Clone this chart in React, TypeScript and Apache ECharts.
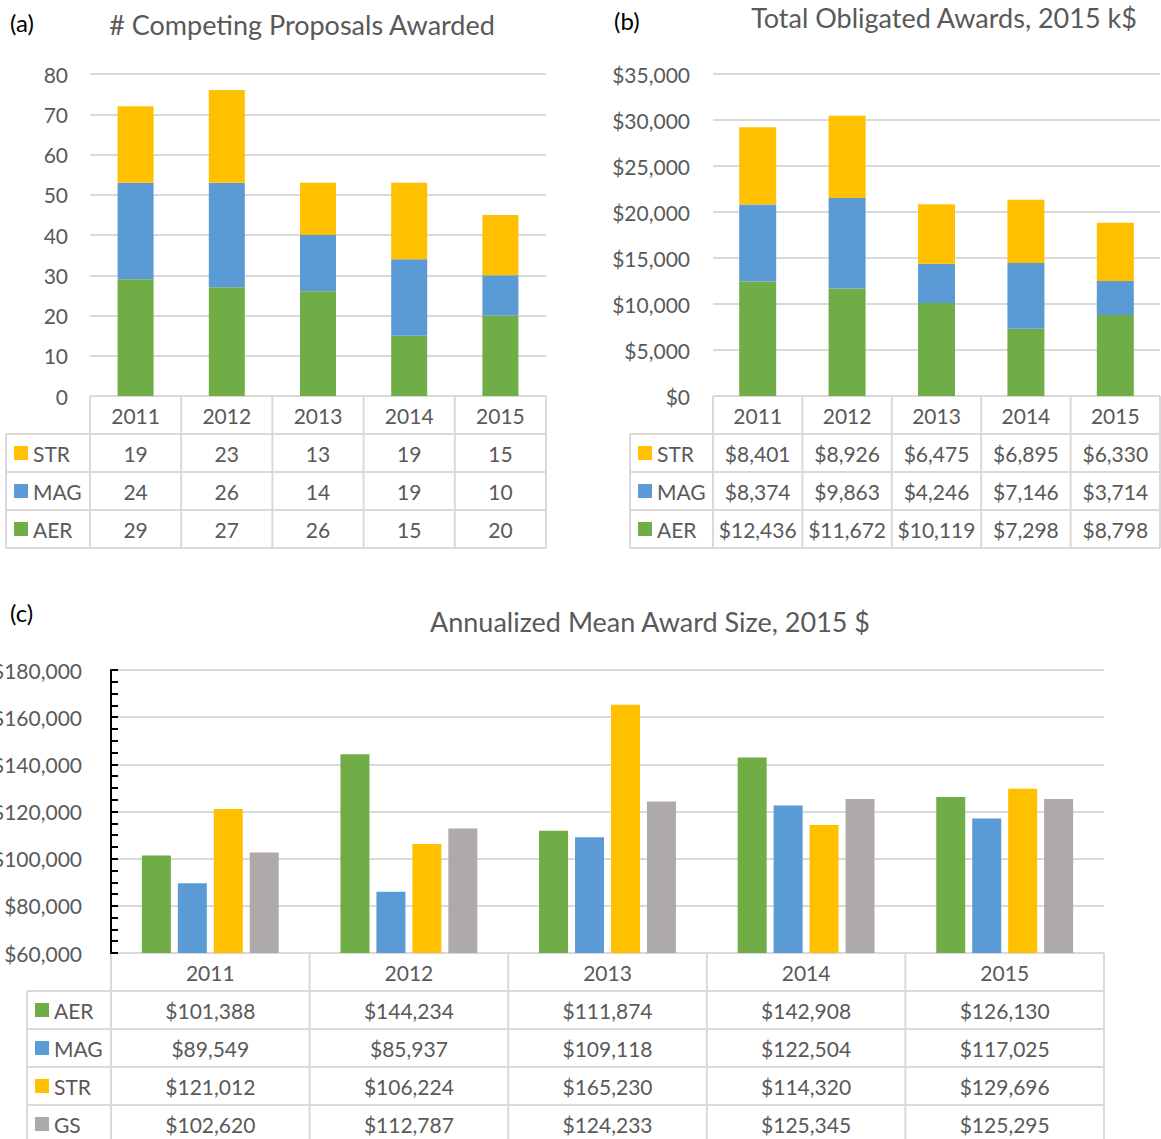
import React, { useEffect, useRef } from 'react';
import * as echarts from 'echarts';

// ---------- data ----------
const years = ['2011', '2012', '2013', '2014', '2015'];

const countSTR = [19, 23, 13, 19, 15];
const countMAG = [24, 26, 14, 19, 10];
const countAER = [29, 27, 26, 15, 20];
const countTicks = { min: 0, max: 80, interval: 10 };

const totalSTR = [8401, 8926, 6475, 6895, 6330];
const totalMAG = [8374, 9863, 4246, 7146, 3714];
const totalAER = [12436, 11672, 10119, 7298, 8798];
const totalTicks = { min: 0, max: 35000, interval: 5000 };

const meanAER = [101388, 144234, 111874, 142908, 126130];
const meanMAG = [89549, 85937, 109118, 122504, 117025];
const meanSTR = [121012, 106224, 165230, 114320, 129696];
const meanGS = [102620, 112787, 124233, 125345, 125295];
const meanTicks = { min: 60000, max: 180000, interval: 20000 };

// ---------- style ----------
const GREEN = '#70ad47';
const BLUE = '#5b9bd5';
const GOLD = '#ffc000';
const GRAY = '#aeaaaa';
const TEXT = '#595959';
const LINE = '#d9d9d9';
const FONT = 'Lato, "Open Sans", sans-serif';
const FS = 21;

const money = (v: number) => '$' + v.toLocaleString('en-US');

const gridA = { left: 90, top: 74, width: 456, height: 322 };
const gridB = { left: 713, top: 74, width: 447, height: 322 };
const gridC = { left: 111, top: 670, width: 993, height: 283 };

type Row = { name: string; color: string; values: string[] };

function txt(x: number, y: number, text: string, align: string, size = FS, fill = TEXT) {
  return {
    type: 'text',
    x,
    y,
    silent: true,
    style: { text, fill, fontSize: size, fontFamily: FONT, align, verticalAlign: 'middle' },
  };
}

function ln(x1: number, y1: number, x2: number, y2: number) {
  return {
    type: 'line',
    silent: true,
    shape: { x1, y1, x2, y2 },
    style: { stroke: LINE, lineWidth: 2 },
  };
}

function table(grid: { left: number; top: number; width: number; height: number }, legendLeft: number, rowH: number, rows: Row[]) {
  const els: any[] = [];
  const top = grid.top + grid.height;
  const left = grid.left;
  const right = grid.left + grid.width;
  const colW = grid.width / years.length;
  const bottom = top + rowH * (rows.length + 1);
  years.forEach((y, i) => els.push(txt(left + colW * (i + 0.5), top + rowH / 2, y, 'center')));
  els.push(ln(left, top, right, top));
  for (let r = 1; r <= rows.length + 1; r++) {
    els.push(ln(legendLeft, top + rowH * r, right, top + rowH * r));
  }
  for (let i = 0; i <= years.length; i++) {
    els.push(ln(left + colW * i, top, left + colW * i, bottom));
  }
  els.push(ln(legendLeft, top + rowH, legendLeft, bottom));
  rows.forEach((row, r) => {
    const cy = top + rowH * (r + 1) + rowH / 2;
    els.push({
      type: 'rect',
      silent: true,
      shape: { x: legendLeft + 8, y: cy - 7, width: 14, height: 14 },
      style: { fill: row.color },
    });
    els.push(txt(legendLeft + 27, cy, row.name, 'left'));
    row.values.forEach((v, i) => els.push(txt(left + colW * (i + 0.5), cy, v, 'center')));
  });
  return els;
}

function valueAxis(gridIndex: number, ticks: { min: number; max: number; interval: number }, fmt: (v: number) => string, margin: number) {
  return {
    type: 'value',
    gridIndex,
    min: ticks.min,
    max: ticks.max,
    interval: ticks.interval,
    axisLine: { show: false },
    axisTick: { show: false },
    axisLabel: { color: TEXT, fontSize: FS, fontFamily: FONT, margin, formatter: fmt },
    splitLine: { lineStyle: { color: LINE, width: 2 } },
  };
}

function catAxis(gridIndex: number) {
  return {
    type: 'category',
    gridIndex,
    data: years,
    axisLine: { show: false },
    axisTick: { show: false },
    axisLabel: { show: false },
    splitLine: { show: false },
  };
}

function stackBar(name: string, data: number[], color: string, idx: number, stack: string, width: number) {
  return {
    type: 'bar',
    name,
    data,
    stack,
    xAxisIndex: idx,
    yAxisIndex: idx,
    barWidth: width,
    itemStyle: { color },
  };
}

function groupBar(name: string, data: number[], color: string) {
  return {
    type: 'bar',
    name,
    data,
    xAxisIndex: 2,
    yAxisIndex: 2,
    barWidth: 29,
    barGap: '24%',
    itemStyle: { color },
  };
}

export default function App() {
  const ref = useRef<HTMLDivElement>(null);

  useEffect(() => {
    if (!ref.current) return;
    const chart = echarts.init(ref.current, undefined, { renderer: 'svg' });

    const graphic: any[] = [
      txt(10, 22, '(a)', 'left', 24, '#000'),
      txt(302, 24, '# Competing Proposals Awarded', 'center', 27),
      txt(614, 20, '(b)', 'left', 24, '#000'),
      txt(944, 17, 'Total Obligated Awards, 2015 k$', 'center', 27),
      txt(10, 612, '(c)', 'left', 24, '#000'),
      txt(650, 621, 'Annualized Mean Award Size, 2015 $', 'center', 27),
      ...table(gridA, 6, 38, [
        { name: 'STR', color: GOLD, values: countSTR.map(String) },
        { name: 'MAG', color: BLUE, values: countMAG.map(String) },
        { name: 'AER', color: GREEN, values: countAER.map(String) },
      ]),
      ...table(gridB, 630, 38, [
        { name: 'STR', color: GOLD, values: totalSTR.map(money) },
        { name: 'MAG', color: BLUE, values: totalMAG.map(money) },
        { name: 'AER', color: GREEN, values: totalAER.map(money) },
      ]),
      ...table(gridC, 27, 38, [
        { name: 'AER', color: GREEN, values: meanAER.map(money) },
        { name: 'MAG', color: BLUE, values: meanMAG.map(money) },
        { name: 'STR', color: GOLD, values: meanSTR.map(money) },
        { name: 'GS', color: GRAY, values: meanGS.map(money) },
      ]),
    ];

    const yC: any = valueAxis(2, meanTicks, money, 29);
    yC.axisLine = { show: true, lineStyle: { color: '#000', width: 2 } };
    yC.axisTick = { show: true, inside: true, length: 7, lineStyle: { color: '#000', width: 2 } };
    yC.minorTick = { show: true, splitNumber: 4, length: 7, lineStyle: { color: '#000', width: 2 } };

    const g = (p: any) => ({ ...p, containLabel: false, outerBoundsMode: 'none' });

    chart.setOption({
      animation: false,
      textStyle: { fontFamily: FONT },
      grid: [g(gridA), g(gridB), g(gridC)],
      xAxis: [catAxis(0), catAxis(1), catAxis(2)],
      yAxis: [
        valueAxis(0, countTicks, (v: number) => String(v), 22),
        valueAxis(1, totalTicks, money, 23),
        yC,
      ],
      series: [
        stackBar('AER', countAER, GREEN, 0, 'a', 36),
        stackBar('MAG', countMAG, BLUE, 0, 'a', 36),
        stackBar('STR', countSTR, GOLD, 0, 'a', 36),
        stackBar('AER', totalAER, GREEN, 1, 'b', 37),
        stackBar('MAG', totalMAG, BLUE, 1, 'b', 37),
        stackBar('STR', totalSTR, GOLD, 1, 'b', 37),
        groupBar('AER', meanAER, GREEN),
        groupBar('MAG', meanMAG, BLUE),
        groupBar('STR', meanSTR, GOLD),
        groupBar('GS', meanGS, GRAY),
      ],
      graphic,
    });

    return () => chart.dispose();
  }, []);

  return (
    <div
      ref={ref}
      style={{ position: 'absolute', left: 0, top: 0, width: 1161, height: 1139, background: '#fff' }}
    />
  );
}
